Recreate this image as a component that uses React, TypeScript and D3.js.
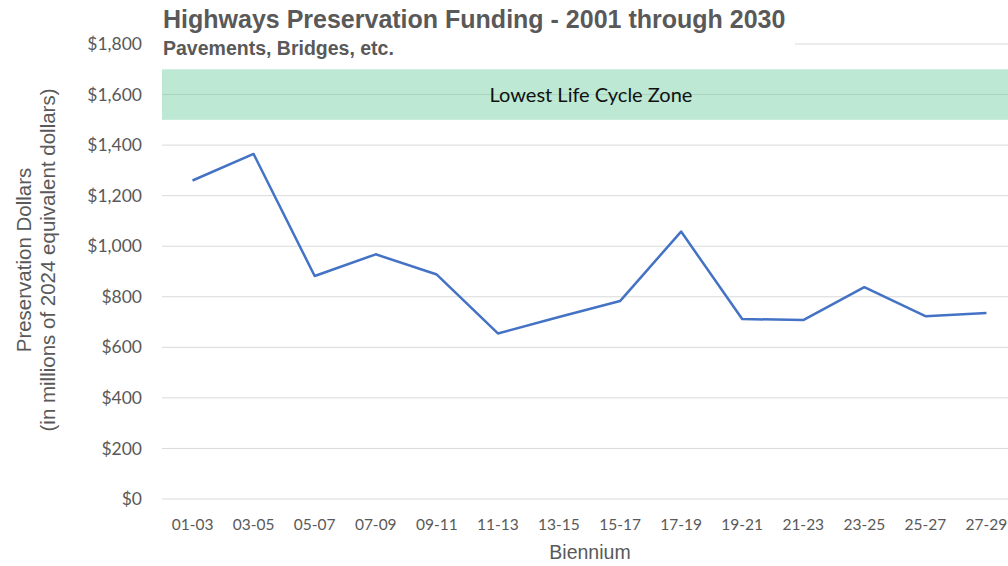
import * as React from "react"
import * as d3 from "d3"

const biennia = ["01-03", "03-05", "05-07", "07-09", "09-11", "11-13", "13-15", "15-17", "17-19", "19-21", "21-23", "23-25", "25-27", "27-29"]
const funding = [1260, 1365, 882, 968, 888, 655, 720, 783, 1058, 712, 708, 838, 723, 736]
const yTicks = [0, 200, 400, 600, 800, 1000, 1200, 1400, 1600, 1800]
const zoneRange = [1500, 1700]

const width = 1008
const height = 566
const margin = { top: 44, right: -9, bottom: 67, left: 162 }

export default function App() {
  const svgRef = React.useRef<SVGSVGElement>(null)

  React.useEffect(() => {
    if (!svgRef.current) return
    const svg = d3.select(svgRef.current)
    svg.selectAll("*").remove()

    const innerWidth = width - margin.left - margin.right
    const innerHeight = height - margin.top - margin.bottom

    const x = d3.scaleBand().domain(biennia).range([0, innerWidth])
    const y = d3.scaleLinear().domain([0, 1800]).range([innerHeight, 0])

    const g = svg.append("g").attr("transform", `translate(${margin.left},${margin.top})`)

    // gridlines
    g.append("g")
      .selectAll("line")
      .data(yTicks)
      .enter()
      .append("line")
      .attr("x1", 0)
      .attr("x2", innerWidth)
      .attr("y1", (d) => y(d))
      .attr("y2", (d) => y(d))
      .attr("stroke", "#d9d9d9")
      .attr("stroke-width", 1)

    // y tick labels
    g.append("g")
      .selectAll("text")
      .data(yTicks)
      .enter()
      .append("text")
      .attr("x", -20)
      .attr("y", (d) => y(d))
      .attr("dy", "0.35em")
      .attr("text-anchor", "end")
      .attr("fill", "#595959")
      .style("font-family", "Lato, 'Open Sans', sans-serif")
      .style("font-size", "17.5px")
      .text((d) => d3.format("$,")(d))

    // lowest life cycle zone
    g.append("rect")
      .attr("x", 0)
      .attr("width", innerWidth)
      .attr("y", y(zoneRange[1]))
      .attr("height", y(zoneRange[0]) - y(zoneRange[1]))
      .attr("fill", "#bde9d4")
    g.append("line")
      .attr("x1", 0)
      .attr("x2", innerWidth)
      .attr("y1", y(1600))
      .attr("y2", y(1600))
      .attr("stroke", "#a9d6bf")
      .attr("stroke-width", 1)
    g.append("text")
      .attr("x", 429)
      .attr("y", y(1600))
      .attr("dy", "0.35em")
      .attr("text-anchor", "middle")
      .attr("fill", "#111")
      .style("font-family", "Lato, 'Open Sans', sans-serif")
      .style("font-size", "20px")
      .text("Lowest Life Cycle Zone")

    // x tick labels
    g.append("g")
      .selectAll("text")
      .data(biennia)
      .enter()
      .append("text")
      .attr("x", (d) => (x(d) || 0) + x.bandwidth() / 2)
      .attr("y", innerHeight + 31)
      .attr("text-anchor", "middle")
      .attr("fill", "#595959")
      .style("font-family", "Lato, 'Open Sans', sans-serif")
      .style("font-size", "15.5px")
      .text((d) => d)

    // line
    const line = d3
      .line<number>()
      .x((_, i) => (x(biennia[i]) || 0) + x.bandwidth() / 2)
      .y((d) => y(d))
    g.append("path")
      .datum(funding)
      .attr("fill", "none")
      .attr("stroke", "#4472c4")
      .attr("stroke-width", 2.5)
      .attr("stroke-linejoin", "round")
      .attr("d", line)

    // title block (white background hides top gridline)
    svg.append("rect").attr("x", 160).attr("y", 0).attr("width", 635).attr("height", 62).attr("fill", "#fff")
    svg.append("text")
      .attr("x", 163)
      .attr("y", 28)
      .attr("fill", "#595959")
      .style("font-family", "'Liberation Sans', Arial, sans-serif")
      .style("font-weight", "bold")
      .style("font-size", "25px")
      .text("Highways Preservation Funding - 2001 through 2030")
    svg.append("text")
      .attr("x", 163)
      .attr("y", 55)
      .attr("fill", "#595959")
      .style("font-family", "'Liberation Sans', Arial, sans-serif")
      .style("font-weight", "bold")
      .style("font-size", "19.5px")
      .text("Pavements, Bridges, etc.")

    // axis titles
    svg.append("text")
      .attr("x", 590)
      .attr("y", 559)
      .attr("text-anchor", "middle")
      .attr("fill", "#595959")
      .style("font-family", "'Liberation Sans', Arial, sans-serif")
      .style("font-size", "19.5px")
      .text("Biennium")

    const yt = svg.append("text")
      .attr("transform", "translate(0,260) rotate(-90)")
      .attr("text-anchor", "middle")
      .attr("fill", "#595959")
      .style("font-family", "'Liberation Sans', Arial, sans-serif")
      .style("font-size", "20.5px")
    yt.append("tspan").attr("x", 0).attr("y", 31).text("Preservation Dollars")
    yt.append("tspan").attr("x", 0).attr("y", 55).text("(in millions of 2024 equivalent dollars)")

    return () => {
      svg.selectAll("*").remove()
    }
  }, [])

  return (
    <svg
      ref={svgRef}
      width={width}
      height={height}
      viewBox={`0 0 ${width} ${height}`}
      style={{ position: "absolute", left: 0, top: 0, background: "#fff" }}
    />
  )
}
